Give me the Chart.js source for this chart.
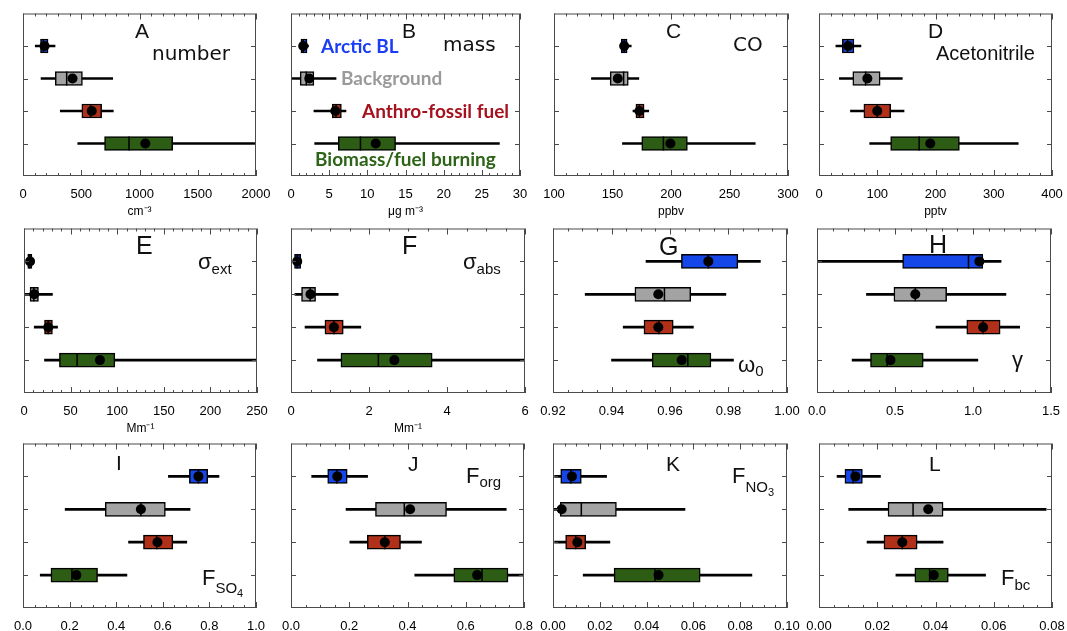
<!DOCTYPE html>
<html>
<head>
<meta charset="utf-8">
<script src="https://cdn.jsdelivr.net/npm/chart.js@4.4.1/dist/chart.umd.min.js"></script>
<style>
html, body { margin: 0; padding: 0; background: #fff; }
body { width: 1067px; height: 631px; position: relative; overflow: hidden; }
canvas { position: absolute; }
</style>
</head>
<body>
<script>
const categories = ['Arctic BL', 'Background', 'Anthro-fossil fuel', 'Biomass/fuel burning'];

// one row per category: [low whisker, q1, median, q3, high whisker, mean]
const numberStats = [[105, 150, 175, 215, 275, 185], [155, 277, 375, 510, 770, 425], [320, 505, 580, 675, 775, 590], [470, 700, 910, 1285, 2100, 1050]];
const massStats = [[1.1, 1.3, 1.6, 2.1, 2.3, 1.6], [0, 1.2, 2.0, 3.0, 5.9, 2.4], [3.0, 5.4, 5.9, 6.6, 7.2, 5.8], [3.1, 6.2, 9.1, 13.7, 27.3, 11.1]];
const coStats = [[156.5, 157.5, 160, 162.5, 166, 160], [132, 148, 159.5, 163.5, 172.5, 154.5], [167.5, 170, 173, 177, 181, 173], [158.5, 175, 193.5, 214, 272, 199.5]];
const acnStats = [[29, 40, 49, 60, 72, 50], [35, 58, 80, 105, 143, 83], [54, 77, 100, 123, 146, 100], [87, 123, 172, 241, 342, 191]];
const extStats = [[3, 4, 6, 8.5, 10, 6.5], [0, 6.5, 10.5, 15.5, 30.5, 11], [11, 22, 26, 30.5, 36, 26], [22, 38, 57, 97.5, 260, 81.5]];
const absStats = [[0.06, 0.09, 0.16, 0.25, 0.27, 0.16], [0.1, 0.27, 0.49, 0.63, 1.21, 0.5], [0.36, 0.87, 1.1, 1.34, 1.79, 1.1], [0.68, 1.28, 2.24, 3.62, 6.2, 2.65]];
const ssaStats = [[0.9518, 0.9639, 0.9731, 0.9832, 0.9909, 0.9731], [0.931, 0.948, 0.9581, 0.9671, 0.9791, 0.956], [0.944, 0.9511, 0.9562, 0.9611, 0.968, 0.956], [0.94, 0.9539, 0.9661, 0.974, 0.9817, 0.964]];
const gammaStats = [[0, 0.549, 0.971, 1.063, 1.18, 1.041], [0.317, 0.493, 0.63, 0.831, 1.211, 0.63], [0.763, 0.96, 1.065, 1.174, 1.299, 1.065], [0.225, 0.343, 0.45, 0.681, 1.031, 0.471]];
const so4Stats = [[0.624, 0.714, 0.753, 0.793, 0.841, 0.753], [0.181, 0.353, 0.506, 0.611, 0.717, 0.506], [0.453, 0.517, 0.574, 0.643, 0.703, 0.577], [0.074, 0.12, 0.21, 0.32, 0.446, 0.229]];
const orgStats = [[0.071, 0.126, 0.157, 0.193, 0.263, 0.159], [0.189, 0.29, 0.389, 0.534, 0.739, 0.409], [0.202, 0.262, 0.322, 0.376, 0.448, 0.322], [0.425, 0.559, 0.656, 0.745, 0.8, 0.639]];
const no3Stats = [[0.0007, 0.0033, 0.0076, 0.0121, 0.0229, 0.0081], [0.0005, 0.0031, 0.0121, 0.0271, 0.0564, 0.0037], [0.0007, 0.0054, 0.0097, 0.014, 0.0243, 0.0104], [0.0129, 0.0261, 0.0436, 0.0629, 0.085, 0.0451]];
const bcStats = [[0.0062, 0.0089, 0.0117, 0.0149, 0.0211, 0.0125], [0.0102, 0.0237, 0.0323, 0.0426, 0.078, 0.0375], [0.0165, 0.0223, 0.0286, 0.0337, 0.0426, 0.0286], [0.0264, 0.0329, 0.038, 0.0444, 0.0572, 0.0394]];

// axis ranges: [min, max, major step, minor step, decimals]
const numberAxis = [0, 2000, 500, 100, 0];
const massAxis = [0, 30, 5, 1, 0];
const coAxis = [100, 300, 50, 10, 0];
const acnAxis = [0, 400, 100, 20, 0];
const extAxis = [0, 250, 50, 10, 0];
const absAxis = [0, 6, 2, 0.5, 0];
const ssaAxis = [0.92, 1.0, 0.02, 0.005, 2];
const gammaAxis = [0, 1.5, 0.5, 0.1, 1];
const so4Axis = [0, 1.0, 0.2, 0.05, 1];
const orgAxis = [0, 0.8, 0.2, 0.05, 1];
const no3Axis = [0, 0.1, 0.02, 0.005, 2];
const bcAxis = [0, 0.08, 0.02, 0.005, 2];

const boxColors = ['#1546e8', '#a3a3a3', '#b0301a', '#2d5c14'];
const legendColors = ['#1a3cf5', '#9a9a9a', '#a5121e', '#2e6418'];

const SANS = '"Liberation Sans", Arial, sans-serif';
const L1 = '21px ' + SANS;
const L2 = '25px ' + SANS;
const NAME = '20px "DejaVu Sans", sans-serif';
const SYM = '22px ' + SANS;
const SUB = '15px ' + SANS;
const SUB2 = '11px ' + SANS;
const LEG = 'bold 19px Lato, sans-serif';

const panels = [
  { stats: numberStats, axis: numberAxis, unit: 'cm⁻³', frame: [23, 13, 233, 163],
    text: [{ x: 112, y: 24, runs: [['A', L1]] }, { x: 129, y: 46, runs: [['number', NAME]] }] },
  { stats: massStats, axis: massAxis, unit: 'μg m⁻³', frame: [291, 13, 229, 163],
    text: [{ x: 111, y: 24, runs: [['B', L1]] }, { x: 152, y: 37, runs: [['mass', NAME]] },
      { x: 30, y: 39, runs: [[categories[0], LEG, 0, legendColors[0]]] },
      { x: 50, y: 71, runs: [[categories[1], LEG, 0, legendColors[1]]] },
      { x: 71, y: 104, runs: [[categories[2], LEG, 0, legendColors[2]]] },
      { x: 24, y: 152, runs: [[categories[3], LEG, 0, legendColors[3]]] }] },
  { stats: coStats, axis: coAxis, unit: 'ppbv', frame: [554, 13, 234, 163],
    text: [{ x: 112, y: 24, runs: [['C', L1]] }, { x: 179, y: 37, runs: [['CO', NAME]] }] },
  { stats: acnStats, axis: acnAxis, unit: 'pptv', frame: [819, 13, 233, 163],
    text: [{ x: 109, y: 24, runs: [['D', L1]] }, { x: 117, y: 46, runs: [['Acetonitrile', '20px ' + SANS]] }] },
  { stats: extStats, axis: extAxis, unit: 'Mm⁻¹', frame: [24, 228, 233, 165],
    text: [{ x: 112, y: 25, runs: [['E', L2]] }, { x: 174, y: 40, runs: [['σ', SYM], ['ext', SUB, 5]] }] },
  { stats: absStats, axis: absAxis, unit: 'Mm⁻¹', frame: [291, 228, 234, 165],
    text: [{ x: 111, y: 25, runs: [['F', L2]] }, { x: 172, y: 40, runs: [['σ', SYM], ['abs', SUB, 5]] }] },
  { stats: ssaStats, axis: ssaAxis, unit: '', frame: [553, 228, 234, 165],
    text: [{ x: 106, y: 26, runs: [['G', L2]] }, { x: 185, y: 143, runs: [['ω', SYM], ['0', SUB, 4]] }] },
  { stats: gammaStats, axis: gammaAxis, unit: '', frame: [817, 228, 234, 165],
    text: [{ x: 112, y: 24, runs: [['H', L2]] }, { x: 195, y: 138, runs: [['γ', SYM]] }] },
  { stats: so4Stats, axis: so4Axis, unit: '', frame: [23, 443, 233, 165],
    text: [{ x: 93, y: 26, runs: [['I', L1]] }, { x: 179, y: 141, runs: [['F', SYM], ['SO', SUB, 8], ['4', SUB2, 12]] }] },
  { stats: orgStats, axis: orgAxis, unit: '', frame: [291, 443, 233, 165],
    text: [{ x: 117, y: 27, runs: [['J', L1]] }, { x: 175, y: 39, runs: [['F', SYM], ['org', SUB, 4]] }] },
  { stats: no3Stats, axis: no3Axis, unit: '', frame: [553, 443, 234, 165],
    text: [{ x: 113, y: 27, runs: [['K', L1]] }, { x: 179, y: 39, runs: [['F', SYM], ['NO', SUB, 9], ['3', SUB2, 13]] }] },
  { stats: bcStats, axis: bcAxis, unit: '', frame: [819, 443, 233, 165],
    text: [{ x: 110, y: 27, runs: [['L', L1]] }, { x: 182, y: 141, runs: [['F', SYM], ['bc', SUB, 5]] }] }
];

const PAD = 22, PAD_TOP = 8, AXIS_H = 52;

// frame, inward ticks and the panel labels
const framePlugin = {
  id: 'frame',
  afterDraw(chart, args, opts) {
    const p = opts.panel;
    const { ctx, chartArea: a } = chart;
    const x = chart.scales.x, y = chart.scales.y;
    const [min, max, major, minor] = p.axis;
    ctx.save();
    ctx.strokeStyle = '#4a4a4a';
    ctx.lineWidth = 1;
    ctx.strokeRect(a.left + 0.5, a.top + 0.5, a.width - 1, a.height - 1);
    ctx.beginPath();
    const n = Math.round((max - min) / minor);
    for (let i = 0; i <= n; i++) {
      const v = min + i * minor;
      const r = v / major;
      const len = Math.abs(r - Math.round(r)) < 1e-6 ? 6 : 3;
      const px = Math.round(x.getPixelForValue(v)) + 0.5;
      ctx.moveTo(px, a.bottom); ctx.lineTo(px, a.bottom - len);
      ctx.moveTo(px, a.top); ctx.lineTo(px, a.top + len);
    }
    categories.forEach((c, i) => {
      const py = Math.round(y.getPixelForValue(i)) + 0.5;
      ctx.moveTo(a.left, py); ctx.lineTo(a.left + 5, py);
      ctx.moveTo(a.right, py); ctx.lineTo(a.right - 5, py);
    });
    ctx.stroke();

    ctx.textAlign = 'left';
    ctx.textBaseline = 'alphabetic';
    p.text.forEach(t => {
      let tx = a.left + t.x;
      t.runs.forEach(([str, font, dy, color]) => {
        ctx.font = font;
        ctx.fillStyle = color || '#111';
        ctx.fillText(str, tx, a.top + t.y + (dy || 0));
        tx += ctx.measureText(str).width;
      });
    });
    ctx.restore();
  }
};

function makeChart(p) {
  const [fl, ft, fw, fh] = p.frame;
  const [min, max, major, minor, dec] = p.axis;
  const cv = document.createElement('canvas');
  cv.width = fw + 2 * PAD;
  cv.height = fh + PAD_TOP + AXIS_H;
  cv.style.left = (fl - PAD) + 'px';
  cv.style.top = (ft - PAD_TOP) + 'px';
  document.body.appendChild(cv);

  const majors = [];
  for (let i = 0; i <= Math.round((max - min) / major); i++) majors.push(min + i * major);

  return new Chart(cv, {
    type: 'bar',
    data: {
      datasets: [
        {
          type: 'scatter', order: 0,
          data: p.stats.map((s, i) => ({ x: s[5], y: i })),
          pointRadius: 5, pointBackgroundColor: '#000', pointBorderWidth: 0
        },
        {
          type: 'scatter', order: 1,
          data: p.stats.map((s, i) => ({ x: s[2], y: i })),
          pointStyle: 'line', pointRadius: 7, pointRotation: 90,
          pointBorderColor: '#000', pointBorderWidth: 1.5
        },
        {
          order: 2,
          data: p.stats.map((s, i) => ({ x: [s[1], s[3]], y: i })),
          backgroundColor: boxColors, borderColor: '#000', borderWidth: 1.5,
          borderSkipped: false, grouped: false, barThickness: 14, maxBarThickness: 14
        },
        {
          order: 3,
          data: p.stats.map((s, i) => ({ x: [s[0], s[4]], y: i })),
          backgroundColor: '#000', borderWidth: 0,
          grouped: false, barThickness: 2, maxBarThickness: 2
        }
      ]
    },
    options: {
      indexAxis: 'y',
      responsive: false,
      animation: false,
      events: [],
      devicePixelRatio: 1,
      layout: { padding: { left: PAD, right: PAD, top: PAD_TOP, bottom: 0 } },
      plugins: { legend: { display: false }, tooltip: { enabled: false }, frame: { panel: p } },
      scales: {
        x: {
          type: 'linear', min: min, max: max,
          afterBuildTicks: s => { s.ticks = majors.map(v => ({ value: v })); },
          afterFit: s => { s.height = AXIS_H; },
          grid: { display: false },
          border: { display: false },
          ticks: {
            autoSkip: false, maxRotation: 0, padding: 3, color: '#000',
            font: { family: 'Liberation Sans', size: 13 },
            callback: v => Number(v).toFixed(dec)
          },
          title: {
            display: !!p.unit, text: p.unit, color: '#000',
            font: { family: 'Liberation Sans', size: 12 },
            padding: { top: 0, bottom: 9 }
          }
        },
        y: { type: 'linear', min: -1, max: 4, reverse: true, offset: false, display: false }
      }
    },
    plugins: [framePlugin]
  });
}

panels.forEach(makeChart);
</script>
</body>
</html>
